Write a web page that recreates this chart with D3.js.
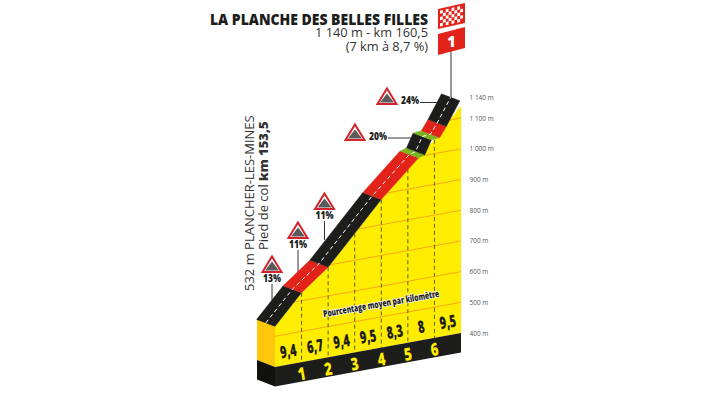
<!DOCTYPE html>
<html><head><meta charset="utf-8">
<script src="https://cdn.jsdelivr.net/npm/d3@7"></script>
<style>html,body{margin:0;background:#fff}svg{display:block}text{font-family:"Open Sans",sans-serif}</style>
</head><body><svg id="c" width="728" height="400"></svg>
<script>
const profileKm=[0,1,2,3,4,5,6,7];
const profileAlt=[532,626,693,787,882,965,1045,1140];
const kmPercent=["9,4","6,7","9,4","9,5","8,3","8","9,5"];
const kmTicks=[1,2,3,4,5,6];
const altTicks=[400,500,600,700,800,900,1000,1100,1140];
const gridAlts=[500,600,700,800,900,1000,1100];
const roadKm=[0,1,2,4,5.4,5.64,5.89,6.2,6.45,6.96];
const roadAlt=[532,626,693,882,995,1001,1046,1049,1081,1157];
const roadColor=["#1d1d1b","#e2231a","#1d1d1b","#e2231a","#7ab51d","#1d1d1b","#7ab51d","#e2231a","#1d1d1b"];
const signLabels=["13%","11%","11%","20%","24%"];
const signApexX=[272,298,324.5,355,387];
const signApexY=[254,220,191,122,86];
const title="LA PLANCHE DES BELLES FILLES";
const subtitle=["1 140 m - km 160,5","(7 km à 8,7 %)"];
const startLabel="532 m PLANCHER-LES-MINES";
const footLabel=["Pied de col ","km 153,5"];
const avgLabel="Pourcentage moyen par kilomètre";

const svg=d3.select("#c");
const x=d3.scaleLinear().domain([0,7]).range([275,461]);
const yAxis=d3.scaleLinear().domain([400,1140]).range([333,105.8]);
const skew=d3.scaleLinear().domain([0,7]).range([34,0]);
const P=(km,alt)=>[x(km),yAxis(alt)+skew(km)];
const ROAD=[-18.5,-7];
const line=d3.line();
const ground=km=>P(km,400);
const off=(p,f)=>[p[0]+ROAD[0]*f,p[1]+ROAD[1]*f];

// yellow body
const body=profileKm.map((k,i)=>P(k,profileAlt[i])).concat([ground(7),ground(0)]);
svg.append("clipPath").attr("id","bodyClip").append("path").attr("d",line(body)+"Z");
svg.append("path").attr("d",line(body)+"Z").attr("fill","#ffed00");
svg.append("g").attr("clip-path","url(#bodyClip)").selectAll("path").data(gridAlts).join("path")
  .attr("d",a=>line([P(0,a),P(7,a)])).attr("stroke","#f6a81c").attr("stroke-width",1).attr("fill","none");
// km dashes
svg.selectAll(".kd").data(kmTicks).join("path").attr("class","kd")
  .attr("d",k=>line([P(k,profileAlt[k]),ground(k)]))
  .attr("stroke","#5f5a1e").attr("stroke-width",1).attr("stroke-dasharray","4,3");
// left face
const h0=ground(0);
svg.append("path").attr("d",line([[257,318.5],P(0,532),h0,[h0[0]-18,h0[1]-7]])+"Z").attr("fill","#fdc70c");
// black base
const bh=19.5;
svg.append("path").attr("d",line([ground(0),ground(7),[x(7),yAxis(400)+bh],[x(0),skew(0)+yAxis(400)+bh]])+"Z").attr("fill","#1d1d1b");
svg.append("path").attr("d",line([[h0[0]-18,h0[1]-7],h0,[h0[0],h0[1]+bh],[h0[0]-18,h0[1]+bh-7]])+"Z").attr("fill","#111110");

// sign pointers
const ptr=[[[272,284],[272,300]],[[298,250],[298,272]],[[324.5,221],[324.5,240]],[[388,138],[413,138]],[[420,102.5],[442,102.5]]];
svg.selectAll(".ptr").data(ptr).join("path").attr("class","ptr").attr("d",d=>line(d)).attr("stroke","#333").attr("stroke-width",1);
// pole
svg.append("path").attr("d",line([[451,48],[451,100]])).attr("stroke","#333").attr("stroke-width",1);

// road
roadColor.forEach((c,i)=>{
  const a=P(roadKm[i],roadAlt[i]),b=P(roadKm[i+1],roadAlt[i+1]);
  svg.append("path").attr("d",line([a,b,off(b,1),off(a,1)])+"Z").attr("fill",c).attr("stroke",c).attr("stroke-width",.3);
});
svg.append("path").attr("d",line(roadKm.map((k,i)=>off(P(k,roadAlt[i]),0.5))))
  .attr("fill","none").attr("stroke","#fff").attr("stroke-width",1).attr("stroke-dasharray","4,3");

// condensed rotated numbers
function cond(tx,ty,s,size,fill,sx){
  return svg.append("text").attr("transform",`translate(${tx},${ty}) rotate(-10) scale(${sx},1)`)
   .attr("text-anchor","middle").attr("dominant-baseline","central").attr("font-weight",800)
   .attr("font-size",size).attr("fill",fill).text(s);
}
kmPercent.forEach((s,i)=>{const g=ground(i+.5);cond(g[0],g[1]-14,s,17,"#1d1d1b",.65);});
kmTicks.forEach(k=>{const g=ground(k);cond(g[0],g[1]+11,k,17.5,"#ffed00",.75);});
cond(381,303,avgLabel,9.5,"#1d1d1b",.7).attr("stroke","#fff").attr("stroke-width",1.5).attr("paint-order","stroke").attr("stroke-linejoin","round");

// altitude axis
const ax=svg.append("g").attr("transform","translate(466,0)").call(d3.axisRight(yAxis).tickValues(altTicks).tickSize(0).tickPadding(3.5)
   .tickFormat(d=>d3.format(",")(d).replace(","," ")+" m"));
ax.select(".domain").remove();
ax.selectAll("text").attr("font-size",6.5).attr("font-family","Open Sans").attr("fill","#555");
ax.selectAll(".tick").filter(d=>d===1140).select("text").attr("dy",-6.5);

// signs
signLabels.forEach((s,i)=>{
  const a0=signApexX[i],ay=signApexY[i];
  svg.append("path").attr("d",line([[a0,ay+2.5],[a0+9.5,ay+18],[a0-9.5,ay+18]])+"Z").attr("fill","#fff").attr("stroke","#d2232a").attr("stroke-width",2);
  svg.append("path").attr("d",line([[a0-7,ay+16.5],[a0,ay+7.5],[a0+7,ay+16.5]])+"Z").attr("fill","#5a5a5a");
  const tp= i<3 ? [a0,ay+28,"middle"] : [a0+14,ay+17.5,"start"];
  svg.append("text").attr("transform",`translate(${tp[0]},${tp[1]}) scale(.85,1)`).attr("text-anchor",tp[2]).attr("font-size",10).attr("font-weight",800).attr("fill","#1d1d1b").text(s);
});

// flags
const cols=[...Array(8).keys()],rows=[...Array(5).keys()];
const fx=d3.scaleLinear().domain([0,8]).range([440,463]);
const fy=d3.scaleLinear().domain([0,5]).range([2,18]);
const slant=px=>9-(px-438)*(6/27);
svg.append("path").attr("d",line([[438,9],[465,3],[465,23],[438,29]])+"Z").attr("fill","#e2231a");
cols.forEach(c=>rows.forEach(r=>{ if((c+r)%2)return;
  const a=fx(c),b=fx(c+1);
  svg.append("path").attr("d",line([[a,slant(a)+fy(r)],[b,slant(b)+fy(r)],[b,slant(b)+fy(r+1)],[a,slant(a)+fy(r+1)]])+"Z").attr("fill","#fff");
}));
svg.append("path").attr("d",line([[438,34],[465,27],[465,48],[438,55]])+"Z").attr("fill","#e2231a");
svg.append("text").attr("transform","translate(451.5,47) scale(.9,1)").attr("text-anchor","middle").attr("font-size",16).attr("font-weight",800).attr("fill","#fff").text("1");

// titles
svg.append("text").attr("x",428).attr("y",24.5).attr("text-anchor","end").attr("font-size",15).attr("font-weight",800).attr("fill","#1d1d1b").attr("textLength",218).attr("lengthAdjust","spacingAndGlyphs").text(title);
subtitle.forEach((s,i)=>svg.append("text").attr("x",428).attr("y",37+i*13.5).attr("text-anchor","end").attr("font-size",12.8).attr("fill","#333").text(s));
svg.append("text").attr("transform","translate(254,291) rotate(-90)").attr("font-size",13).attr("fill","#333").text(startLabel);
const v=svg.append("text").attr("transform","translate(268,250) rotate(-90)").attr("font-size",13).attr("fill","#333");
v.append("tspan").text(footLabel[0]);
v.append("tspan").attr("font-weight",800).text(footLabel[1]);
</script></body></html>
